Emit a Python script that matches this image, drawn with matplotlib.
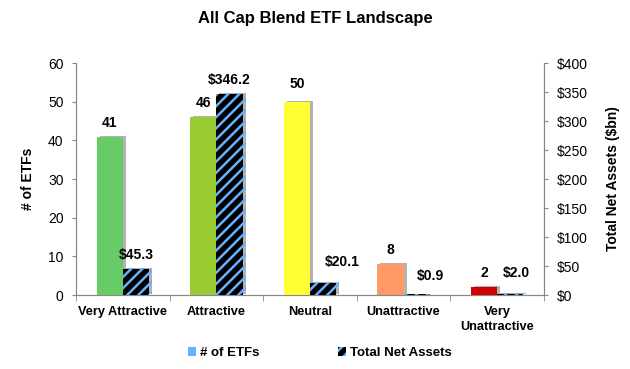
import numpy as np
import matplotlib
matplotlib.use("Agg")
import matplotlib.pyplot as plt
import matplotlib.patheffects as pe
from matplotlib.patches import Patch

plt.rcParams['font.family'] = ['Liberation Sans', 'DejaVu Sans']
plt.rcParams['hatch.linewidth'] = 1.8

# данные
categories = ['Very Attractive', 'Attractive', 'Neutral', 'Unattractive', 'Very\nUnattractive']
num_etfs = [41, 46, 50, 8, 2]
net_assets = [45.3, 346.2, 20.1, 0.9, 2.0]
asset_labels = ['$45.3', '$346.2', '$20.1', '$0.9', '$2.0']
bar_colors = ['#66CC66', '#99CC33', '#FFFF33', '#FF9966', '#CC0000']

# сдвиги подписей (в пунктах), как в оригинале
count_offsets = [(0, 5), (0, 5), (0, 8), (0, 5), (0, 5)]
asset_offsets = [(0, 5), (0, 5), (14, 10), (10, 8), (4, 10)]

fig = plt.figure(figsize=(6.3, 3.69), dpi=100)
ax = fig.add_axes([0.1206, 0.2005, 0.7429, 0.6285])
ax2 = ax.twinx()

x = np.arange(len(categories))
w = 0.28
shadow = [pe.SimplePatchShadow(offset=(2.2, 0.7), shadow_rgbFace='#808080', alpha=0.6), pe.Normal()]

bars1 = ax.bar(x - w / 2, num_etfs, w, color=bar_colors, zorder=3)
bars2 = ax2.bar(x + w / 2, net_assets, w, color='black', edgecolor='#66B2FF',
                hatch='///', linewidth=0, zorder=3)
for b in list(bars1) + list(bars2):
    b.set_path_effects(shadow)

for i, b in enumerate(bars1):
    ax.annotate(str(num_etfs[i]), (b.get_x() + b.get_width() / 2, b.get_height()),
                xytext=count_offsets[i], textcoords='offset points',
                ha='center', va='bottom', fontsize=10, fontweight='bold')
for i, b in enumerate(bars2):
    ax2.annotate(asset_labels[i], (b.get_x() + b.get_width() / 2, b.get_height()),
                 xytext=asset_offsets[i], textcoords='offset points',
                 ha='center', va='bottom', fontsize=10, fontweight='bold')

ax.set_xlim(-0.5, 4.5)
ax.set_ylim(0, 60)
ax2.set_ylim(0, 400)
ax.set_yticks(np.arange(0, 61, 10))
ax2.set_yticks(np.arange(0, 401, 50))
ax2.set_yticklabels(['$%d' % v for v in range(0, 401, 50)])

ax.set_xticks(x)
ax.set_xticklabels(categories, fontsize=9.2, fontweight='bold', linespacing=1.35)
ax.set_xticks(np.arange(-0.5, 4.6, 1), minor=True)
ax.tick_params(axis='x', which='major', length=0, pad=8)
ax.tick_params(axis='x', which='minor', length=4, direction='out', color='#888888')
ax.tick_params(axis='y', length=3, color='#888888', labelsize=10, pad=6)
ax2.tick_params(axis='y', length=3, color='#888888', labelsize=10, pad=6)

for a in (ax, ax2):
    a.spines['top'].set_visible(False)
    for s in ('left', 'right', 'bottom'):
        a.spines[s].set_color('#888888')

ax.set_ylabel('# of ETFs', fontsize=10, fontweight='bold', labelpad=9)
ax2.set_ylabel('Total Net Assets ($bn)', fontsize=10, fontweight='bold', labelpad=13)

fig.suptitle('All Cap Blend ETF Landscape', x=0.5, y=0.97, fontsize=12, fontweight='bold')

handles = [Patch(facecolor='#66B2FF'),
           Patch(facecolor='black', edgecolor='#66B2FF', hatch='///', linewidth=0)]
fig.legend(handles, ['# of ETFs', 'Total Net Assets'], loc='center',
           bbox_to_anchor=(0.508, 0.043), ncol=2, frameon=False,
           handlelength=0.6, handleheight=0.6, handletextpad=0.3,
           columnspacing=6.0, prop={'size': 9.5, 'weight': 'bold'})

fig.savefig('out.png', dpi=100)
